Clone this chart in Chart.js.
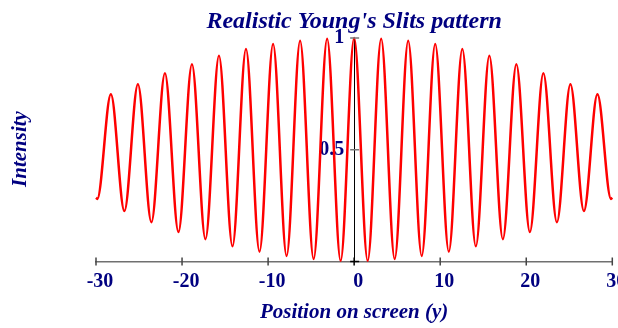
<!DOCTYPE html>
<html>
<head>
<meta charset="utf-8">
<script src="https://cdn.jsdelivr.net/npm/chart.js@4.4.1/dist/chart.umd.min.js"></script>
<style>
  html, body { margin: 0; padding: 0; background: #fff; }
</style>
</head>
<body>
<canvas id="chart" width="618" height="328"></canvas>
<script>
// Fringe maxima / minima
var positions = [-30, -29.85, -28.27, -26.70, -25.13, -23.56, -21.99, -20.42, -18.85, -17.28,
  -15.71, -14.14, -12.57, -11.00, -9.42, -7.85, -6.28, -4.71, -3.14, -1.57, 0,
  1.57, 3.14, 4.71, 6.28, 7.85, 9.42, 11.00, 12.57, 14.14, 15.71,
  17.28, 18.85, 20.42, 21.99, 23.56, 25.13, 26.70, 28.27, 29.85, 30];
var intensity = [0.285, 0.280, 0.748, 0.226, 0.793, 0.176, 0.842, 0.132, 0.882, 0.100,
  0.921, 0.068, 0.951, 0.044, 0.973, 0.025, 0.988, 0.011, 0.997, 0.003, 1.000,
  0.003, 0.997, 0.011, 0.988, 0.025, 0.973, 0.044, 0.951, 0.068, 0.921,
  0.100, 0.882, 0.132, 0.842, 0.176, 0.793, 0.226, 0.748, 0.280, 0.285];
var xTicks = [-30, -20, -10, 0, 10, 20, 30];
var yTicks = [0.5, 1];

var navy = '#000080';
var serif = '"Liberation Serif", "Times New Roman", serif';

// tick dashes crossing the axes + rotated y title
var axisMarks = {
  id: 'axisMarks',
  afterDraw: function (chart) {
    var ctx = chart.ctx;
    var xs = chart.scales.x, ys = chart.scales.y;
    var y0 = ys.getPixelForValue(0), x0 = xs.getPixelForValue(0);
    ctx.save();
    ctx.lineWidth = 1.5;
    xTicks.forEach(function (v) {
      var px = xs.getPixelForValue(v);
      ctx.strokeStyle = v === 0 ? '#000' : '#444';
      ctx.beginPath();
      ctx.moveTo(px, y0 - 4);
      ctx.lineTo(px, y0 + 4);
      ctx.stroke();
    });
    [0].concat(yTicks).forEach(function (v) {
      var py = ys.getPixelForValue(v);
      ctx.strokeStyle = v === 0 ? '#000' : '#777';
      ctx.beginPath();
      ctx.moveTo(x0 - 4, py);
      ctx.lineTo(x0 + 5, py);
      ctx.stroke();
    });
    ctx.translate(21, 149);
    ctx.rotate(-Math.PI / 2);
    ctx.font = 'italic bold 21px ' + serif;
    ctx.fillStyle = navy;
    ctx.textAlign = 'center';
    ctx.textBaseline = 'middle';
    ctx.fillText('Intensity', 0, 0);
    ctx.restore();
  }
};

// let the edge labels hang out of the plot like the original
function noEdgePadding(scale) {
  scale.paddingLeft = 0;
  scale.paddingRight = 0;
  scale.paddingTop = 0;
  scale.paddingBottom = 0;
}

new Chart(document.getElementById('chart').getContext('2d'), {
  type: 'line',
  data: {
    datasets: [{
      data: positions.map(function (p, i) { return { x: p, y: intensity[i] }; }),
      borderColor: '#ff0000',
      borderWidth: 2.5,
      pointRadius: 0,
      fill: false,
      cubicInterpolationMode: 'monotone',
      clip: false
    }]
  },
  options: {
    responsive: false,
    devicePixelRatio: 1,
    animation: false,
    layout: {
      autoPadding: false,
      padding: { left: 96, right: 5.7, top: 0, bottom: 0 }
    },
    plugins: {
      legend: { display: false },
      tooltip: { enabled: false },
      title: {
        display: true,
        text: "Realistic Young's Slits pattern",
        color: navy,
        font: { family: serif, size: 24, weight: 'bold', style: 'italic' },
        padding: { top: 7, bottom: 2.2 }
      }
    },
    scales: {
      x: {
        type: 'linear',
        min: -30,
        max: 30,
        z: 1,
        afterBuildTicks: function (scale) {
          scale.ticks = xTicks.map(function (v) { return { value: v }; });
        },
        afterFit: function (scale) {
          scale.height = 66.5;
          noEdgePadding(scale);
        },
        grid: { display: false, drawTicks: false },
        border: { display: true, color: '#707070', width: 1.5 },
        ticks: {
          color: navy,
          font: { family: serif, size: 20, weight: 'bold' },
          padding: 8,
          labelOffset: 4,
          maxRotation: 0,
          autoSkip: false
        },
        title: {
          display: true,
          text: 'Position on screen (y)',
          color: navy,
          font: { family: serif, size: 21, weight: 'bold', style: 'italic' },
          padding: { top: 0, bottom: 2.4 }
        }
      },
      y: {
        type: 'linear',
        min: 0,
        max: 1,
        position: 'center',
        z: 1,
        afterBuildTicks: function (scale) {
          scale.ticks = yTicks.map(function (v) { return { value: v }; });
        },
        afterFit: function (scale) {
          scale.width = 0;
          noEdgePadding(scale);
        },
        grid: { display: false, drawTicks: false },
        border: { display: true, color: '#000', width: 1 },
        ticks: {
          color: navy,
          font: { family: serif, size: 20, weight: 'bold' },
          padding: 10,
          callback: function (v) { return String(v); }
        }
      }
    }
  },
  plugins: [axisMarks]
});
</script>
</body>
</html>
